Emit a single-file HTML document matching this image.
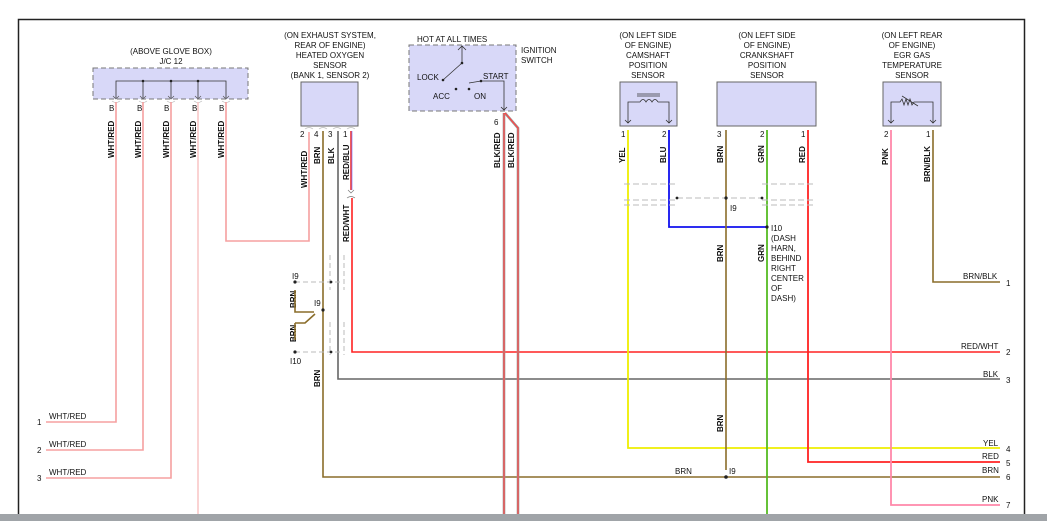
<!DOCTYPE html>
<html><head><meta charset="utf-8"><style>
html,body{margin:0;padding:0;background:#fff;width:1047px;height:521px;overflow:hidden}
svg{display:block}
text{font-family:"Liberation Sans",sans-serif;font-size:8px;fill:#111}
</style></head><body>
<svg width="1047" height="521" viewBox="0 0 1047 521" xmlns="http://www.w3.org/2000/svg">
<rect x="0" y="0" width="1047" height="521" fill="#fff"/>
<!-- border -->
<path d="M18.5 521 V19.5 H1024.5 V514" fill="none" stroke="#222" stroke-width="1.5"/>
<rect x="0" y="514" width="1047" height="7" fill="#a0a4a8"/>

<!-- JC12 -->
<text x="171" y="54" text-anchor="middle">(ABOVE GLOVE BOX)</text>
<text x="171" y="64" text-anchor="middle">J/C 12</text>
<rect x="93" y="68" width="155" height="31" fill="#d8d8f8" stroke="#777" stroke-dasharray="5,3"/>
<path d="M116 98 V81 H226 V98 M143 81 V98 M171 81 V98 M198 81 V98" fill="none" stroke="#333" stroke-width="0.8"/>
<g fill="#222"><circle cx="143" cy="81" r="1.3"/><circle cx="171" cy="81" r="1.3"/><circle cx="198" cy="81" r="1.3"/></g>
<g fill="none" stroke="#555" stroke-width="0.7">
<path d="M113 96 l3 3 3-3 M140 96 l3 3 3-3 M168 96 l3 3 3-3 M195 96 l3 3 3-3 M223 96 l3 3 3-3"/>
<path d="M112 101 q4 3 8 0 M139 101 q4 3 8 0 M167 101 q4 3 8 0 M194 101 q4 3 8 0 M222 101 q4 3 8 0" stroke="#bbb"/>
</g>
<g><text x="109" y="111">B</text><text x="137" y="111">B</text><text x="164" y="111">B</text><text x="192" y="111">B</text><text x="219" y="111">B</text></g>
<g fill="none" stroke="#f5a0a0" stroke-width="1.6">
<path d="M116 102 V422 H46"/>
<path d="M143 102 V450 H46"/>
<path d="M171 102 V478 H46"/>
<path d="M198 102 V514" stroke="#f8c8c8"/>
<path d="M226 102 V241 H309 V132"/>
</g>
<g font-weight="bold">
<text transform="translate(114,158) rotate(-90)">WHT/RED</text>
<text transform="translate(141,158) rotate(-90)">WHT/RED</text>
<text transform="translate(169,158) rotate(-90)">WHT/RED</text>
<text transform="translate(196,158) rotate(-90)">WHT/RED</text>
<text transform="translate(224,158) rotate(-90)">WHT/RED</text>
</g>
<text x="49" y="419">WHT/RED</text><text x="37" y="425">1</text>
<text x="49" y="447">WHT/RED</text><text x="37" y="453">2</text>
<text x="49" y="475">WHT/RED</text><text x="37" y="481">3</text>

<!-- O2 sensor -->
<text x="330" y="38" text-anchor="middle">(ON EXHAUST SYSTEM,</text>
<text x="330" y="48" text-anchor="middle">REAR OF ENGINE)</text>
<text x="330" y="58" text-anchor="middle">HEATED OXYGEN</text>
<text x="330" y="68" text-anchor="middle">SENSOR</text>
<text x="330" y="78" text-anchor="middle">(BANK 1, SENSOR 2)</text>
<rect x="301" y="82" width="57" height="44" fill="#d8d8f8" stroke="#666"/>
<g fill="none" stroke="#bbb" stroke-width="0.7"><path d="M305 129 q4 -3 8 0 M319 129 q4 -3 8 0 M333 129 q4 -3 8 0 M347 129 q4 -3 8 0"/></g>
<text x="300" y="137">2</text><text x="314" y="137">4</text><text x="328" y="137">3</text><text x="343" y="137">1</text>
<path d="M323 131 V477 H1000" fill="none" stroke="#8a6d2a" stroke-width="1.6"/>
<path d="M338 131 V379 H1000" fill="none" stroke="#666" stroke-width="1.6"/>
<path d="M351 131 V190" fill="none" stroke="#e33" stroke-width="1.6"/>
<path d="M352 131 V190" fill="none" stroke="#66f" stroke-width="0.6"/>
<path d="M348 190 l3 3 3-3 M347 198 q4 -3 8 0" fill="none" stroke="#777" stroke-width="0.7"/>
<path d="M352 198 V352 H1000" fill="none" stroke="#f22" stroke-width="1.6"/>
<g font-weight="bold">
<text transform="translate(307,188) rotate(-90)">WHT/RED</text>
<text transform="translate(320,164) rotate(-90)">BRN</text>
<text transform="translate(334,164) rotate(-90)">BLK</text>
<text transform="translate(349,180) rotate(-90)">RED/BLU</text>
<text transform="translate(349,242) rotate(-90)">RED/WHT</text>
<text transform="translate(296,308) rotate(-90)">BRN</text>
<text transform="translate(296,342) rotate(-90)">BRN</text>
<text transform="translate(320,387) rotate(-90)">BRN</text>
</g>
<!-- splices left -->
<g fill="none" stroke="#bbb" stroke-width="1" stroke-dasharray="5,3">
<path d="M295 282 H340 M295 352 H340"/>
<path d="M330 255 V290 M344 255 V290 M330 322 V355 M344 322 V355"/>
</g>
<path d="M295 290 V312 H314 M295 323 V340 M295 323 H305 L315 314" fill="none" stroke="#8a6d2a" stroke-width="1.6"/>
<circle cx="295" cy="282" r="1.6" fill="#222"/><circle cx="295" cy="352" r="1.6" fill="#222"/>
<circle cx="323" cy="310" r="1.6" fill="#222"/><circle cx="331" cy="282" r="1.4" fill="#222"/><circle cx="331" cy="352" r="1.4" fill="#222"/>
<text x="292" y="279">I9</text><text x="314" y="306">I9</text><text x="290" y="364">I10</text>

<!-- ignition switch -->
<text x="417" y="42">HOT AT ALL TIMES</text>
<text x="521" y="53">IGNITION</text><text x="521" y="63">SWITCH</text>
<rect x="409" y="45" width="107" height="66" fill="#d8d8f8" stroke="#777" stroke-dasharray="5,3"/>
<path d="M462 46 V63 L443 80 M458 50 l4 -4 4 4 M469 83 L481 81 H504 V110 M501 107 l3 3 3-3" fill="none" stroke="#333" stroke-width="0.8"/>
<g fill="#222"><circle cx="462" cy="63" r="1.3"/><circle cx="443" cy="80" r="1.3"/><circle cx="456" cy="89" r="1.3"/><circle cx="469" cy="89" r="1.3"/><circle cx="481" cy="81" r="1.3"/></g>
<text x="417" y="80">LOCK</text><text x="483" y="79">START</text><text x="433" y="99">ACC</text><text x="474" y="99">ON</text>
<text x="494" y="125">6</text>
<path d="M504 113 V514 M505 113 L518 128 V514" fill="none" stroke="#999" stroke-width="2.6"/>
<path d="M504 113 V514 M505 113 L518 128 V514" fill="none" stroke="#f44" stroke-width="1.2"/>
<g font-weight="bold">
<text transform="translate(500,168) rotate(-90)">BLK/RED</text>
<text transform="translate(514,168) rotate(-90)">BLK/RED</text>
</g>

<!-- camshaft -->
<text x="648" y="38" text-anchor="middle">(ON LEFT SIDE</text>
<text x="648" y="48" text-anchor="middle">OF ENGINE)</text>
<text x="648" y="58" text-anchor="middle">CAMSHAFT</text>
<text x="648" y="68" text-anchor="middle">POSITION</text>
<text x="648" y="78" text-anchor="middle">SENSOR</text>
<rect x="620" y="82" width="57" height="44" fill="#d8d8f8" stroke="#666"/>
<path d="M628 123 V102 H640 M658 102 H669 V123 M625 120 l3 3 3-3 M666 120 l3 3 3-3 M640 102 q3 -5 6 0 q3 -5 6 0 q3 -5 6 0 M637 96 H660 M637 94 H660" fill="none" stroke="#333" stroke-width="0.8"/>
<text x="621" y="137">1</text><text x="662" y="137">2</text>
<path d="M628 130 V448 H1000" fill="none" stroke="#ee0" stroke-width="1.8"/>
<path d="M669 130 V227 H767" fill="none" stroke="#11e" stroke-width="1.8"/>
<g font-weight="bold">
<text transform="translate(625,163) rotate(-90)">YEL</text>
<text transform="translate(666,163) rotate(-90)">BLU</text>
</g>

<!-- crankshaft -->
<text x="767" y="38" text-anchor="middle">(ON LEFT SIDE</text>
<text x="767" y="48" text-anchor="middle">OF ENGINE)</text>
<text x="767" y="58" text-anchor="middle">CRANKSHAFT</text>
<text x="767" y="68" text-anchor="middle">POSITION</text>
<text x="767" y="78" text-anchor="middle">SENSOR</text>
<rect x="717" y="82" width="99" height="44" fill="#d8d8f8" stroke="#666"/>
<text x="717" y="137">3</text><text x="760" y="137">2</text><text x="801" y="137">1</text>
<path d="M726 130 V470" fill="none" stroke="#8a6d2a" stroke-width="1.6"/>
<path d="M767 130 V514" fill="none" stroke="#5b2" stroke-width="1.8"/>
<path d="M808 130 V462 H1000" fill="none" stroke="#f22" stroke-width="1.8"/>
<g font-weight="bold">
<text transform="translate(723,163) rotate(-90)">BRN</text>
<text transform="translate(764,163) rotate(-90)">GRN</text>
<text transform="translate(805,163) rotate(-90)">RED</text>
<text transform="translate(723,262) rotate(-90)">BRN</text>
<text transform="translate(764,262) rotate(-90)">GRN</text>
<text transform="translate(723,432) rotate(-90)">BRN</text>
</g>
<!-- shields -->
<g fill="none" stroke="#bbb" stroke-width="1" stroke-dasharray="6,3">
<path d="M624 184 H676 M624 200 H676 M624 205 H676 M762 184 H816 M762 200 H816 M762 205 H816"/>
<path d="M677 198 H763"/>
</g>
<g fill="#222"><circle cx="677" cy="198" r="1.4"/><circle cx="726" cy="198" r="1.6"/><circle cx="762" cy="198" r="1.4"/><circle cx="767" cy="227" r="1.6"/><circle cx="726" cy="477" r="1.8"/></g>
<text x="730" y="211">I9</text>
<text x="771" y="231">I10</text>
<text x="771" y="241">(DASH</text><text x="771" y="251">HARN,</text><text x="771" y="261">BEHIND</text>
<text x="771" y="271">RIGHT</text><text x="771" y="281">CENTER</text><text x="771" y="291">OF</text><text x="771" y="301">DASH)</text>
<text x="729" y="474">I9</text>
<text x="675" y="474">BRN</text>

<!-- EGR -->
<text x="912" y="38" text-anchor="middle">(ON LEFT REAR</text>
<text x="912" y="48" text-anchor="middle">OF ENGINE)</text>
<text x="912" y="58" text-anchor="middle">EGR GAS</text>
<text x="912" y="68" text-anchor="middle">TEMPERATURE</text>
<text x="912" y="78" text-anchor="middle">SENSOR</text>
<rect x="883" y="82" width="58" height="44" fill="#d8d8f8" stroke="#666"/>
<path d="M891 123 V102 H900 l2 -3 2 6 2 -6 2 6 2 -6 2 6 2 -3 H933 V123 M888 120 l3 3 3-3 M930 120 l3 3 3-3 M902 96 L918 106" fill="none" stroke="#333" stroke-width="0.8"/>
<text x="884" y="137">2</text><text x="926" y="137">1</text>
<path d="M891 130 V505 H1000" fill="none" stroke="#f8a" stroke-width="1.8"/>
<path d="M933 130 V282 H1000" fill="none" stroke="#8a6d2a" stroke-width="1.6"/>
<g font-weight="bold">
<text transform="translate(888,165) rotate(-90)">PNK</text>
<text transform="translate(930,182) rotate(-90)">BRN/BLK</text>
</g>

<!-- right labels -->
<text x="963" y="279">BRN/BLK</text><text x="1006" y="286">1</text>
<text x="961" y="349">RED/WHT</text><text x="1006" y="355">2</text>
<text x="983" y="377">BLK</text><text x="1006" y="383">3</text>
<text x="983" y="446">YEL</text><text x="1006" y="452">4</text>
<text x="982" y="459">RED</text><text x="1006" y="466">5</text>
<text x="982" y="473">BRN</text><text x="1006" y="480">6</text>
<text x="982" y="502">PNK</text><text x="1006" y="508">7</text>
</svg>
</body></html>
